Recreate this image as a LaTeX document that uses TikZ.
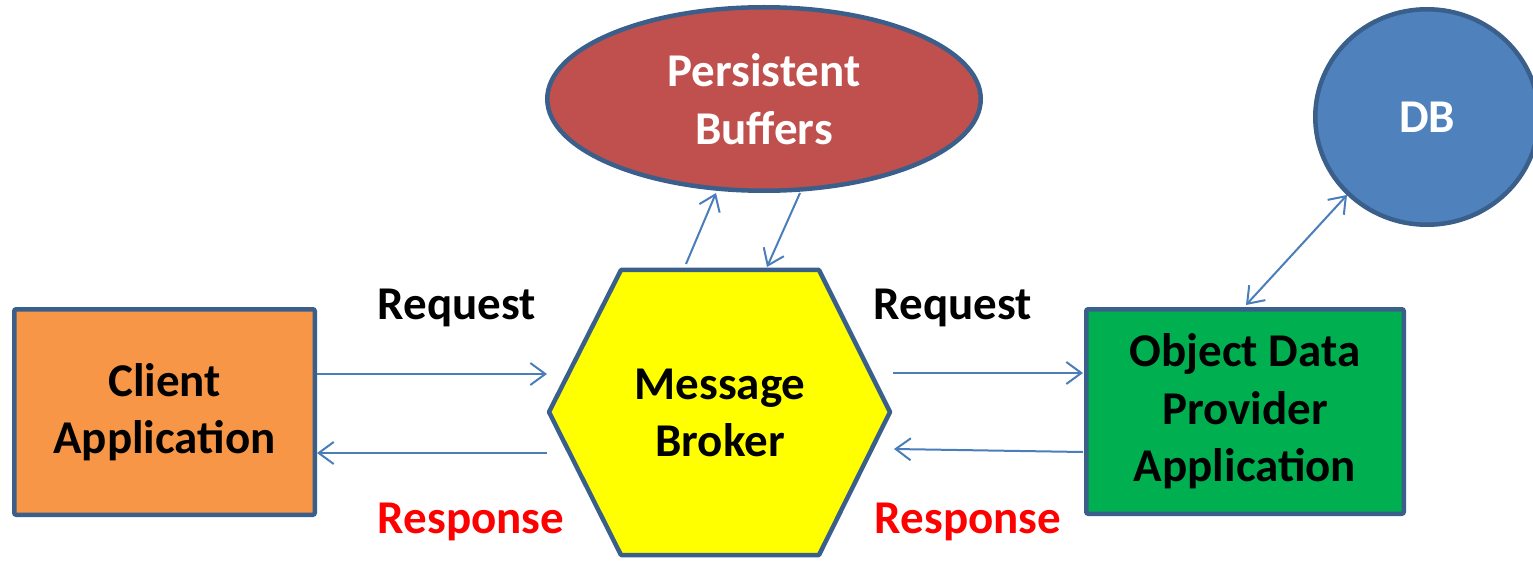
\documentclass[tikz,border=0pt]{standalone}
\usepackage{fontspec}
\setmainfont{Carlito}
\usetikzlibrary{arrows.meta,shapes.geometric}
\definecolor{bordc}{HTML}{3A5F8B}
\definecolor{arrc}{HTML}{4A7EBB}
\definecolor{orangefill}{HTML}{F79646}
\definecolor{redfill}{HTML}{C0504D}
\definecolor{bluefill}{HTML}{4F81BD}
\definecolor{greenfill}{HTML}{00B050}
\definecolor{yellowfill}{HTML}{FFFF00}
\definecolor{resred}{HTML}{FF0000}
\tikzset{
  txt/.style={font=\fontsize{47}{57.5}\selectfont\bfseries, align=center},
  shp/.style={draw=bordc, line width=4.5pt, inner sep=0pt, txt},
  boxnode/.style={shp, rectangle, rounded corners=2pt},
  conn/.style={draw=arrc, line width=2pt, -{Straight Barb[length=15pt,width=22pt,line width=2pt]}},
  biconn/.style={draw=arrc, line width=2pt, {Straight Barb[length=15pt,width=22pt,line width=2pt]}-{Straight Barb[length=15pt,width=22pt,line width=2pt]}},
  lbl/.style={txt, anchor=base},
}
\begin{document}
\begin{tikzpicture}[x=1pt,y=-1pt]
\useasboundingbox (0,0) rectangle (1533,561);
% Client
\node[boxnode, fill=orangefill, minimum width=300.5pt, minimum height=205.5pt] (client) at (164.5,412) {Client\\Application};
% ODP
\node[boxnode, fill=greenfill, minimum width=317.5pt, minimum height=204.5pt] (odp) at (1245,411.5) {Object Data\\Provider\\Application};
% Persistent buffers
\node[shp, ellipse, fill=redfill, text=white, minimum width=433.5pt, minimum height=183.5pt] (pb) at (764,99) {Persistent\\Buffers};
% DB
\node[shp, ellipse, fill=bluefill, text=white, minimum width=223.5pt, minimum height=215.5pt] (db) at (1427,117) {DB};
% Message broker hexagon
\draw[draw=bordc, line width=4.5pt, line join=round, fill=yellowfill]
  (621,270) -- (819,270) -- (890,412) -- (819,555) -- (621,555) -- (549,412) -- cycle;
\node[txt] (mb) at (720,413) {Message\\Broker};
% connector end points
\coordinate (cR1) at (317,374);
\coordinate (cR2) at (317,453);
\coordinate (mL1) at (547,374);
\coordinate (mL2) at (547,453);
\coordinate (mR1) at (893,373);
\coordinate (mR2) at (894,449);
\coordinate (oL1) at (1083,373);
\coordinate (oL2) at (1083,452);
\coordinate (mT1) at (686,264);
\coordinate (mT2) at (767,267);
\coordinate (pB1) at (716,193);
\coordinate (pB2) at (800,193);
\coordinate (dbA) at (1347,195);
\coordinate (oT) at (1246,305);
\draw[conn] (cR1) -- (mL1);
\draw[conn] (mL2) -- (cR2);
\draw[conn] (mR1) -- (oL1);
\draw[conn] (oL2) -- (mR2);
\draw[conn] (mT1) -- (pB1);
\draw[conn] (pB2) -- (mT2);
\draw[biconn] (oT) -- (dbA);
% labels
\node[lbl] (rq1) at (457,319) {Request};
\node[lbl] (rq2) at (953,319) {Request};
\node[lbl, text=resred] (rs1) at (471,533) {Response};
\node[lbl, text=resred] (rs2) at (968,533) {Response};
\end{tikzpicture}
\end{document}
